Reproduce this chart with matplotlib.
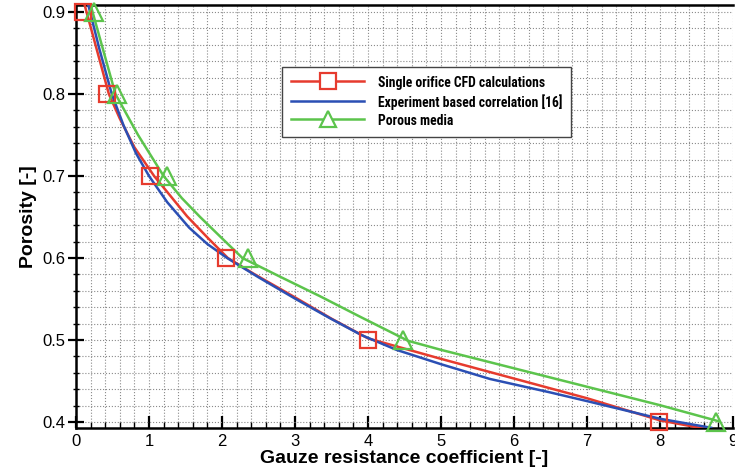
import numpy as np
import matplotlib.pyplot as plt
from matplotlib.lines import Line2D
from matplotlib.ticker import MultipleLocator

# curve read-off points (x = gauze resistance coefficient, y = porosity)
cfd_line_x = [0.12, 0.45, 0.60, 0.80, 1.07, 1.30, 1.52, 1.80, 2.08, 2.43, 3.00, 3.50, 4.00, 5.00, 6.00, 7.00, 8.00, 8.60]
cfd_line_y = [0.908, 0.80, 0.770, 0.735, 0.70, 0.675, 0.651, 0.625, 0.60, 0.581, 0.552, 0.526, 0.502, 0.477, 0.453, 0.429, 0.402, 0.392]
cfd_pts_x = [0.09, 0.42, 1.01, 2.05, 4.00, 7.99]
cfd_pts_y = [0.90, 0.80, 0.70, 0.60, 0.50, 0.40]

corr_x = [0.17, 0.32, 0.49, 0.65, 0.82, 1.00, 1.25, 1.55, 1.80, 2.07, 2.50, 3.00, 3.48, 3.91, 4.39, 5.00, 5.67, 6.50, 7.00, 8.00, 8.70]
corr_y = [0.908, 0.855, 0.80, 0.762, 0.728, 0.70, 0.668, 0.637, 0.617, 0.60, 0.5765, 0.5505, 0.5265, 0.506, 0.488, 0.4705, 0.4525, 0.436, 0.4255, 0.404, 0.393]

por_line_x = [0.18, 0.54, 0.85, 1.20, 1.45, 1.70, 2.00, 2.28, 2.80, 3.34, 3.90, 4.55, 5.00, 5.80, 7.00, 8.00, 8.80]
por_line_y = [0.915, 0.80, 0.75, 0.70, 0.673, 0.65, 0.624, 0.60, 0.577, 0.5535, 0.528, 0.499, 0.488, 0.470, 0.443, 0.4205, 0.401]
por_pts_x = [0.24, 0.56, 1.25, 2.35, 4.48, 8.77]
por_pts_y = [0.90, 0.80, 0.70, 0.60, 0.50, 0.40]

labels = ["Single orifice CFD calculations", "Experiment based correlation [16]", "Porous media"]

red, blue, green = "#e63b2e", "#2b4fb4", "#5cc44c"

plt.rcParams["font.family"] = ["Liberation Sans", "DejaVu Sans"]

fig = plt.figure(figsize=(7.35, 4.74), dpi=100)
ax = fig.add_axes([76/735, 46/474, 657/735, 423/474])

lw = 1.8
ax.plot(cfd_line_x, cfd_line_y, color=red, lw=lw, zorder=3)
ax.plot(corr_x, corr_y, color=blue, lw=lw, zorder=4)
ax.plot(por_line_x, por_line_y, color=green, lw=lw, zorder=3)
ax.plot(cfd_pts_x, cfd_pts_y, ls="none", marker="s", ms=12, mfc="none", mec=red, mew=1.6, zorder=5, clip_on=False)
ax.plot(por_pts_x, por_pts_y, ls="none", marker="^", ms=13, mfc="none", mec=green, mew=1.6, zorder=5, clip_on=False)

ax.set_xlim(0, 9)
ax.set_ylim(0.3927, 0.9085)
ax.xaxis.set_major_locator(MultipleLocator(1))
ax.xaxis.set_minor_locator(MultipleLocator(0.2))
ax.yaxis.set_major_locator(MultipleLocator(0.1))
ax.yaxis.set_minor_locator(MultipleLocator(0.02))
ax.grid(True, which="both", ls=":", color="#8a8a8a", lw=0.8)
ax.set_axisbelow(True)

ax.tick_params(axis="x", which="major", direction="in", length=9, width=1.6, labelsize=12, pad=4)
ax.tick_params(axis="x", which="minor", direction="in", length=4, width=1)
ax.tick_params(axis="y", which="major", direction="inout", length=11, width=1.6, labelsize=12, pad=2)
ax.tick_params(axis="y", which="minor", direction="inout", length=5, width=1)
ax.set_xticks(range(10))
ax.set_yticks([0.4, 0.5, 0.6, 0.7, 0.8, 0.9])
ax.set_yticklabels(["0.4", "0.5", "0.6", "0.7", "0.8", "0.9"])

for s in ["left", "bottom", "top"]:
    ax.spines[s].set_linewidth(1.8)
ax.spines["right"].set_visible(False)

ax.set_xlabel("Gauze resistance coefficient [-]", fontsize=14, fontweight="bold", labelpad=1)
ax.set_ylabel("Porosity [-]", fontsize=14, fontweight="bold", labelpad=4)

handles = [
    Line2D([], [], color=red, lw=lw, marker="s", ms=11, mfc="white", mec=red, mew=1.6),
    Line2D([], [], color=blue, lw=lw),
    Line2D([], [], color=green, lw=lw, marker="^", ms=12, mfc="white", mec=green, mew=1.6),
]
leg = ax.legend(handles, labels, loc="upper left", bbox_to_anchor=((282-76)/657, (428-67)/423),
                borderaxespad=0, fancybox=False, framealpha=1, edgecolor="#444444",
                handlelength=5.4, handleheight=1.0, handletextpad=1.0, labelspacing=0.3, borderpad=0.65,
                prop={"family": ["Roboto Condensed", "Liberation Sans Narrow", "Liberation Sans"],
                      "weight": "bold", "size": 9.8})
leg.get_frame().set_linewidth(1.0)

fig.savefig("out.png", dpi=100)
